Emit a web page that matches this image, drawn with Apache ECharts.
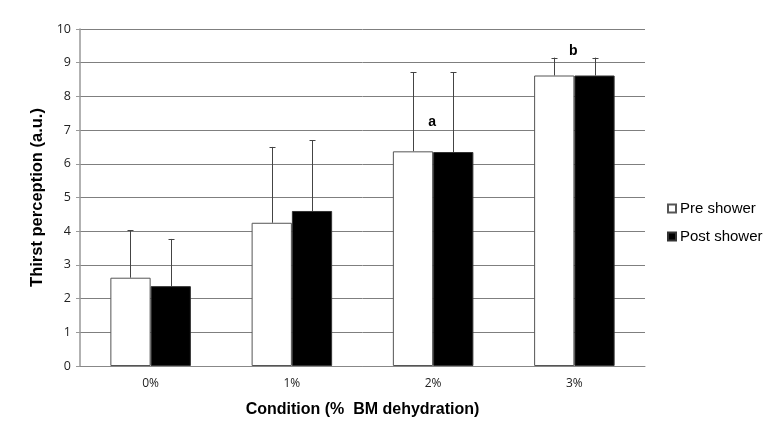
<!DOCTYPE html>
<html><head><meta charset="utf-8">
<script src="https://cdn.jsdelivr.net/npm/echarts@6/dist/echarts.min.js"></script>
<style>html,body{margin:0;padding:0;background:#fff}#c{width:783px;height:433px}</style>
</head><body><div id="c"></div>
<script>
const categories = ['0%', '1%', '2%', '3%'];
const preValues = [2.62, 4.25, 6.37, 8.62];
const postValues = [2.37, 4.60, 6.35, 8.62];
const preErrTop = [4.03, 6.50, 8.71, 9.15];
const postErrTop = [3.77, 6.70, 8.71, 9.15];
const sigLabels = ['', '', 'a', 'b'];
const sigLabelY = [0, 0, 7.25, 9.35];

const GAP = 0.43;
const chart = echarts.init(document.getElementById('c'), null, {renderer: 'canvas'});

function errSeries(values, tops, side) {
  return {
    type: 'custom',
    silent: true,
    z: 1,
    data: values.map((v, i) => [i, v, tops[i]]),
    renderItem: function (params, api) {
      const i = api.value(0);
      const band = api.size([1, 0])[0];
      const bw = band * (1 - GAP) / 2;
      const base = api.coord([i, api.value(1)]);
      const top = api.coord([i, api.value(2)]);
      const x = Math.round(base[0] + side * bw / 2) + 0.5;
      return {
        type: 'group',
        children: [
          {type: 'line', shape: {x1: x, y1: base[1], x2: x, y2: top[1]}, style: {stroke: '#444', lineWidth: 1}},
          {type: 'line', shape: {x1: x - 3, y1: Math.round(top[1]) + 0.5, x2: x + 3, y2: Math.round(top[1]) + 0.5}, style: {stroke: '#444', lineWidth: 1}}
        ]
      };
    }
  };
}

chart.setOption({
  animation: false,
  grid: {left: 80, right: 138, top: 29, bottom: 67},
  legend: {
    orient: 'vertical', left: 662, top: 196, itemGap: 13,
    itemWidth: 8, itemHeight: 8, icon: 'rect',
    textStyle: {fontFamily: 'Liberation Sans', fontSize: 15, color: '#000', padding: [0, 0, 0, -1]},
    data: ['Pre shower', 'Post shower']
  },
  xAxis: {
    type: 'category', data: categories,
    name: 'Condition (%  BM dehydration)', nameLocation: 'middle', nameGap: 36,
    nameTextStyle: {fontFamily: 'Liberation Sans', fontWeight: 'bold', fontSize: 16, color: '#000'},
    axisLine: {lineStyle: {color: '#888'}},
    axisTick: {length: 5, lineStyle: {color: '#888'}},
    axisLabel: {fontFamily: 'Open Sans', fontSize: 12, color: '#222', margin: 12}
  },
  yAxis: {
    type: 'value', min: 0, max: 10, interval: 1,
    name: 'Thirst perception (a.u.)', nameLocation: 'middle', nameGap: 33,
    nameTextStyle: {fontFamily: 'Liberation Sans', fontWeight: 'bold', fontSize: 16.5, color: '#000'},
    axisLine: {show: true, lineStyle: {color: '#999', width: 1.5}},
    axisTick: {show: true, length: 4, lineStyle: {color: '#999'}},
    axisLabel: {fontFamily: 'Open Sans', fontSize: 12.5, color: '#222', margin: 9},
    splitLine: {lineStyle: {color: '#7f7f7f'}}
  },
  series: [
    errSeries(preValues, preErrTop, -1),
    errSeries(postValues, postErrTop, 1),
    {
      name: 'Pre shower', type: 'bar', data: preValues, barGap: 0, barCategoryGap: '43%', z: 2,
      itemStyle: {color: '#fff', borderColor: '#555', borderWidth: 1}
    },
    {
      name: 'Post shower', type: 'bar', data: postValues, barGap: 0, barCategoryGap: '43%', z: 2,
      itemStyle: {color: '#000', borderColor: '#333', borderWidth: 1}
    },
    {
      type: 'custom', silent: true, z: 3,
      data: sigLabels.map((t, i) => [i, sigLabelY[i], t]),
      renderItem: function (params, api) {
        const t = sigLabels[api.value(0)];
        if (!t) return null;
        const p = api.coord([api.value(0), api.value(1)]);
        return {type: 'text', style: {text: t, x: p[0] - 1, y: p[1], align: 'center', verticalAlign: 'middle',
          font: 'bold 14px Liberation Sans', fill: '#000'}};
      }
    }
  ]
});
</script></body></html>
